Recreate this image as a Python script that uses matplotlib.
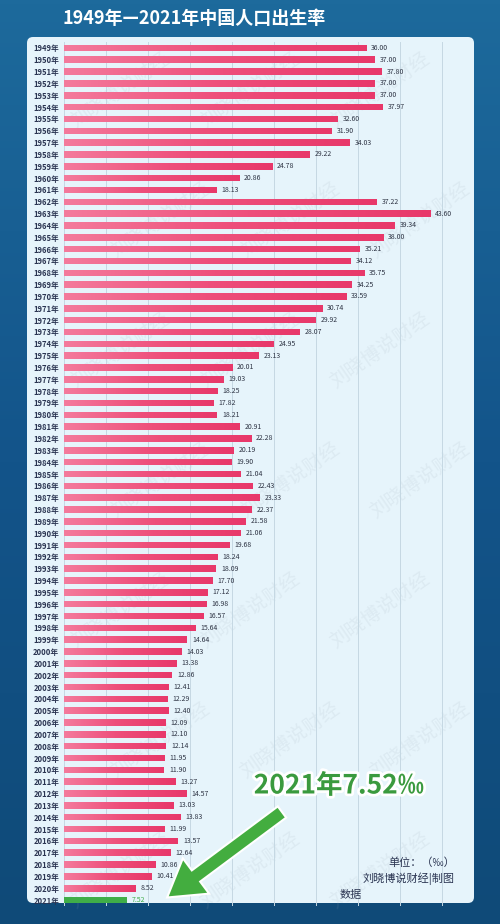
import matplotlib
matplotlib.use("Agg")
import matplotlib.pyplot as plt
import matplotlib.patches as mpatches
import matplotlib.patheffects as pe
from matplotlib.colors import LinearSegmentedColormap
import numpy as np

plt.rcParams['font.family'] = ['Noto Sans CJK SC', 'DejaVu Sans']

years = list(range(1949, 2022))
rates = [36.00, 37.00, 37.80, 37.00, 37.00, 37.97, 32.60, 31.90, 34.03, 29.22,
         24.78, 20.86, 18.13, 37.22, 43.60, 39.34, 38.00, 35.21, 34.12, 35.75,
         34.25, 33.59, 30.74, 29.92, 28.07, 24.95, 23.13, 20.01, 19.03, 18.25,
         17.82, 18.21, 20.91, 22.28, 20.19, 19.90, 21.04, 22.43, 23.33, 22.37,
         21.58, 21.06, 19.68, 18.24, 18.09, 17.70, 17.12, 16.98, 16.57, 15.64,
         14.64, 14.03, 13.38, 12.86, 12.41, 12.29, 12.40, 12.09, 12.10, 12.14,
         11.95, 11.90, 13.27, 14.57, 13.03, 13.83, 11.99, 13.57, 12.64, 10.86,
         10.41, 8.52, 7.52]
year_labels = [f"{y}年" for y in years]
title = "1949年—2021年中国人口出生率"
highlight = "2021年7.52‰"
unit_text = "单位：（‰）"
credit_text = "刘晓博说财经|制图"
source_text = "数据"
watermark = "刘晓博说财经"

W, H = 500, 924
fig = plt.figure(figsize=(W / 100, H / 100), dpi=100)

# background overlay (pixel coords)
bg = fig.add_axes([0, 0, 1, 1], zorder=0)
bg.set_xlim(0, W)
bg.set_ylim(H, 0)
bg.axis('off')
grad = np.linspace(0, 1, 256).reshape(-1, 1)
bgcmap = LinearSegmentedColormap.from_list('bg', ['#1d6a9c', '#13548a', '#0f4a78'])
bg.imshow(grad, extent=[0, W, H, 0], cmap=bgcmap, aspect='auto', zorder=0)
panel = mpatches.FancyBboxPatch((27, 37), 447, 866, boxstyle="round,pad=0,rounding_size=6",
                                facecolor='#e6f4fb', edgecolor='none', zorder=1)
bg.add_patch(panel)
bg.text(63, 18, title, color='white', fontsize=13, fontweight='bold', ha='left', va='center')

# watermarks
for wx in [120, 250, 380]:
    for wy in range(90, 900, 130):
        bg.text(wx + (wy // 130 % 2) * 40, wy, watermark, fontsize=14, color='#9aa8b4', alpha=0.13,
                rotation=35, ha='center', va='center', zorder=2)

# main chart
n = len(years)
x0, x1 = 64, 467
top, bot = 42, 906
ax = fig.add_axes([x0 / W, 1 - bot / H, (x1 - x0) / W, (bot - top) / H], zorder=3)
ax.patch.set_alpha(0)
ypos = np.arange(n)
colors = ['#ee4f7b'] * (n - 1) + ['#3fae48']
bars = ax.barh(ypos, rates, height=0.55, color=colors, zorder=3)
pink = LinearSegmentedColormap.from_list('pink', ['#f47a9c', '#ee4f7b', '#e8386a'])
hgrad = np.linspace(0, 1, 128).reshape(1, -1)
for i, (b, v) in enumerate(zip(bars, rates)):
    if i == n - 1:
        continue
    im = ax.imshow(hgrad, extent=[0, v, i + 0.275, i - 0.275], cmap=pink, aspect='auto', zorder=4)
    im.set_clip_path(b)
ax.set_xlim(0, 48)
ax.set_ylim(n - 0.5, -0.5)
ax.set_xticks(np.arange(0, 50, 5))
ax.xaxis.grid(True, color='#c5d8e3', linewidth=0.7)
ax.set_axisbelow(True)
ax.tick_params(axis='x', length=0, labelbottom=False)
ax.set_yticks(ypos)
ax.set_yticklabels(year_labels, fontsize=5.5, fontweight='bold', color='#2b3552')
ax.tick_params(axis='y', length=0, pad=3.5)
for s in ax.spines.values():
    s.set_visible(False)
for i, v in enumerate(rates):
    ax.text(v + 0.6, i, f"{v:.2f}", va='center', ha='left', fontsize=5, fontweight='medium',
            color='#3fae48' if i == n - 1 else '#2e3444', zorder=5)

# annotation overlay
ov = fig.add_axes([0, 0, 1, 1], zorder=5)
ov.set_xlim(0, W)
ov.set_ylim(H, 0)
ov.axis('off')
ov.text(339, 786, highlight, fontsize=19, fontweight='bold', color='#3a9a3e', ha='center', va='center',
        path_effects=[pe.withStroke(linewidth=4, foreground='white')])
arrow = mpatches.FancyArrow(282, 812, -86, 64, width=14, head_width=44, head_length=36,
                            length_includes_head=False, facecolor='#43ad3f', edgecolor='white',
                            linewidth=1.5, zorder=6)
ov.add_patch(arrow)
ov.text(455, 863, unit_text, fontsize=8, color='#2b3552', ha='right', va='center')
ov.text(455, 879, credit_text, fontsize=8, color='#2b3552', ha='right', va='center')
ov.text(340, 895, source_text, fontsize=8, color='#2b3552', ha='left', va='center')

fig.savefig('out.png', dpi=100)
